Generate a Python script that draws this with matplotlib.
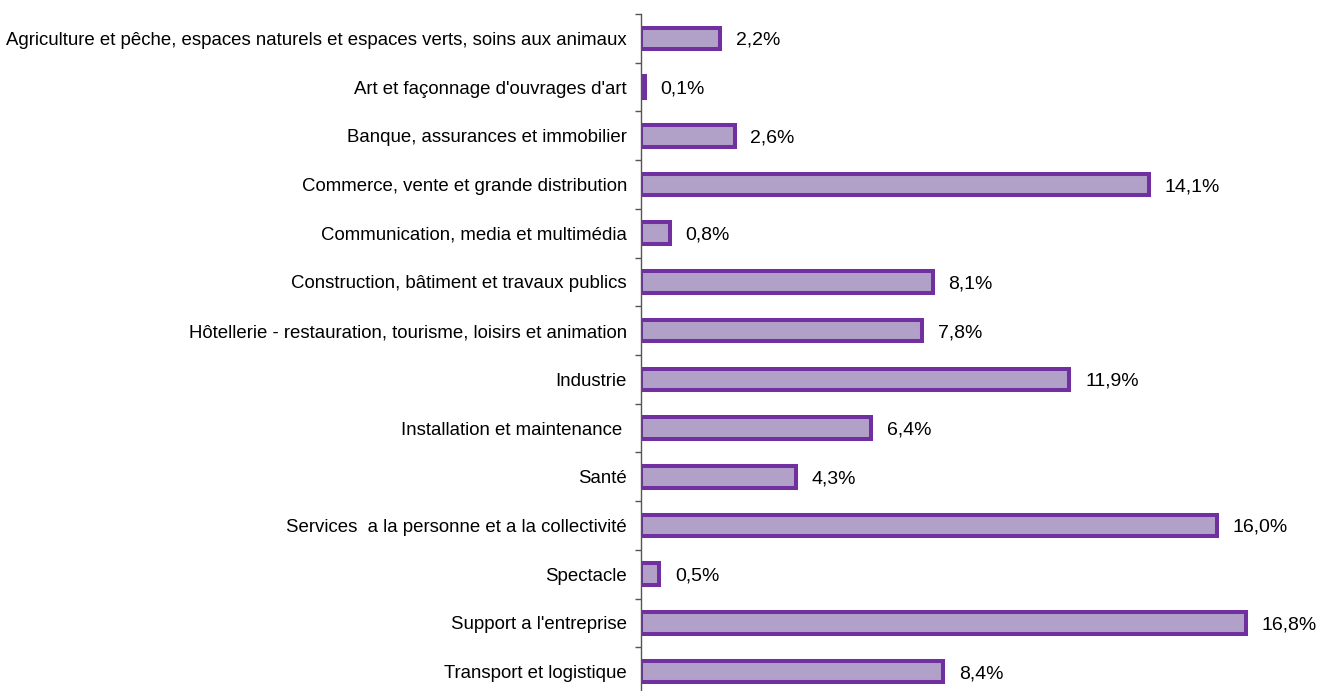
import matplotlib.pyplot as plt

categories = [
    "Agriculture et pêche, espaces naturels et espaces verts, soins aux animaux",
    "Art et façonnage d'ouvrages d'art",
    "Banque, assurances et immobilier",
    "Commerce, vente et grande distribution",
    "Communication, media et multimédia",
    "Construction, bâtiment et travaux publics",
    "Hôtellerie - restauration, tourisme, loisirs et animation",
    "Industrie",
    "Installation et maintenance ",
    "Santé",
    "Services  a la personne et a la collectivité",
    "Spectacle",
    "Support a l'entreprise",
    "Transport et logistique",
]
values = [2.2, 0.1, 2.6, 14.1, 0.8, 8.1, 7.8, 11.9, 6.4, 4.3, 16.0, 0.5, 16.8, 8.4]

plt.rcParams['font.family'] = ['Liberation Sans', 'DejaVu Sans']

fig = plt.figure(figsize=(13.21, 6.91), dpi=100)
# axis spine sits at x=641 px, plot extends slightly past the bottom edge
ax = fig.add_axes([641 / 1321, -5 / 691, 1 - 641 / 1321, 682 / 691])

y = list(range(len(categories)))
ax.barh(y, values, height=0.44, color='#B1A0C7', edgecolor='#7030A0', linewidth=2.9)

for yi, v in zip(y, values):
    ax.text(v + 0.44, yi, f"{v:.1f}%".replace('.', ','), va='center_baseline', ha='left', fontsize=14)

ax.set_xlim(0, (1321 - 641) / 36.0)
ax.set_ylim(len(categories) - 0.5, -0.5)
ax.set_yticks(y)
ax.set_yticklabels(categories, fontsize=13.4)
for lbl in ax.get_yticklabels():
    lbl.set_verticalalignment('center_baseline')
ax.set_yticks([i - 0.5 for i in range(len(categories) + 1)], minor=True)
ax.tick_params(axis='y', which='major', length=0, pad=10)
ax.tick_params(axis='y', which='minor', length=4, width=1, direction='out', color='#555555')
ax.set_xticks([])

for s in ['top', 'right', 'bottom']:
    ax.spines[s].set_visible(False)
ax.spines['left'].set_linewidth(1)
ax.spines['left'].set_color('#555555')

plt.savefig('out.png', dpi=100)
